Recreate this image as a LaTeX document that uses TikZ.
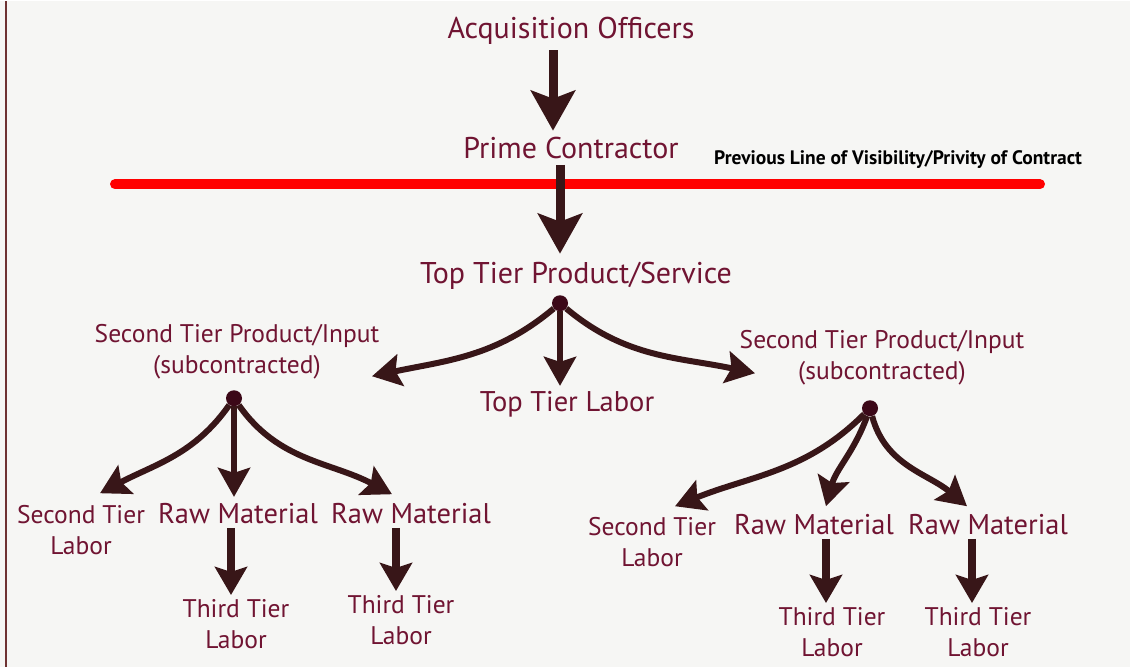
\documentclass[tikz,border=0pt]{standalone}
\usepackage{fontspec}
\setmainfont{PT Sans}
\usetikzlibrary{arrows.meta}
\definecolor{labelred}{RGB}{112,20,50}
\definecolor{arrowbrown}{RGB}{56,22,24}
\definecolor{hubdot}{RGB}{60,8,24}
\definecolor{paper}{RGB}{246,246,244}
\definecolor{frameline}{RGB}{110,50,50}
\tikzset{
  big/.style={text=labelred,font=\fontsize{30}{34}\selectfont,inner sep=0pt,anchor=base},
  raw/.style={big,font=\fontsize{28.5}{34}\selectfont},
  small/.style={text=labelred,font=\fontsize{25.5}{31}\selectfont,align=center,inner sep=0pt,anchor=base},
  fatarrow/.style={draw=arrowbrown,line width=9pt,-{Stealth[length=40pt,width=44pt,inset=8pt]}},
  midarrow/.style={draw=arrowbrown,line width=8pt,-{Stealth[length=28pt,width=32pt,inset=5pt]}},
  bendarrow/.style={draw=arrowbrown,line width=6pt,-{Stealth[length=29pt,width=32pt,inset=5pt]}},
  hub/.style={circle,fill=hubdot,inner sep=0pt,minimum size=16pt},
}
\begin{document}
\begin{tikzpicture}[x=1pt,y=-1pt]
% paper and frame
\fill[paper] (0,0) rectangle (1130,666);
\draw[frameline,line width=2.5pt] (6,0) -- (6,666);

% top of the chain
\node[big] (acq) at (571,37) {Acquisition Officers};
\node[big] (prime) at (571,157) {Prime Contractor};
\node[big] (toptier) at (576,282) {Top Tier Product/Service};
\node[font=\bfseries\fontsize{19.5}{22}\selectfont,anchor=base west,inner sep=0pt] (privity) at (714,163) {Previous Line of Visibility/Privity of Contract};
\coordinate (lineL) at (115,183);
\coordinate (lineR) at (1040,183);
\draw[red,line width=10pt,line cap=round] (lineL) -- (lineR);
\draw[fatarrow] ([xshift=-18pt,yshift=-6pt]acq.south) -- ([xshift=-18pt,yshift=6pt]prime.north);
\draw[fatarrow] ([xshift=-11pt,yshift=-6pt]prime.south) -- ([xshift=-16pt,yshift=8pt]toptier.north);

% first split
\node[hub] (hubT) at (560,302) {};
\node[raw] (toplabor) at (567,410) {Top Tier Labor};
\node[small] (secL) at (237,372) {Second Tier Product/Input\\(subcontracted)};
\node[small] (secR) at (882,378) {Second Tier Product/Input\\(subcontracted)};
\coordinate (tipL) at (372,375);
\coordinate (tipR) at (755,372);
\draw[bendarrow] (hubT) to[out=220,in=12] (tipL);
\draw[bendarrow] (hubT) -- ([yshift=5pt]toplabor.north -| hubT);
\draw[bendarrow] (hubT) to[out=-40,in=168] (tipR);

% left branch
\node[hub] (hubL) at (234,397) {};
\node[small] (labL) at (81,553) {Second Tier\\Labor};
\node[raw] (rawL1) at (238,522) {Raw Material};
\node[raw] (rawL2) at (411,522) {Raw Material};
\node[small] (thirdL1) at (236,647) {Third Tier\\Labor};
\node[small] (thirdL2) at (401,643) {Third Tier\\Labor};
\coordinate (tipLL) at (100,492);
\coordinate (tipLR) at (392,493);
\draw[bendarrow] (hubL) to[out=235,in=28] (tipLL);
\draw[bendarrow] (hubL) -- ([yshift=6pt]rawL1.north -| hubL);
\draw[bendarrow] (hubL) to[out=-55,in=152] (tipLR);
\draw[midarrow] ([xshift=-7pt,yshift=-4pt]rawL1.south) -- ([xshift=-5pt,yshift=4pt]thirdL1.north);
\draw[midarrow] ([xshift=-15pt,yshift=-4pt]rawL2.south) -- ([xshift=-5pt,yshift=4pt]thirdL2.north);

% right branch
\node[hub] (hubR) at (870,407) {};
\node[small] (labR) at (652,565) {Second Tier\\Labor};
\node[raw] (rawR1) at (814,533) {Raw Material};
\node[raw] (rawR2) at (988,533) {Raw Material};
\node[small] (thirdR1) at (832,655) {Third Tier\\Labor};
\node[small] (thirdR2) at (978,655) {Third Tier\\Labor};
\coordinate (tipRL) at (675,505);
\coordinate (tipRM) at (826,505);
\coordinate (tipRR) at (967,505);
\draw[bendarrow] (hubR) to[out=225,in=22] (tipRL);
\draw[bendarrow] (hubR) to[out=250,in=75] (tipRM);
\draw[bendarrow] (hubR) to[out=-75,in=140] (tipRR);
\draw[midarrow] ([xshift=12pt,yshift=-4pt]rawR1.south) -- ([xshift=-6pt,yshift=4pt]thirdR1.north);
\draw[midarrow] ([xshift=-16pt,yshift=-4pt]rawR2.south) -- ([xshift=-6pt,yshift=4pt]thirdR2.north);
\end{tikzpicture}
\end{document}
